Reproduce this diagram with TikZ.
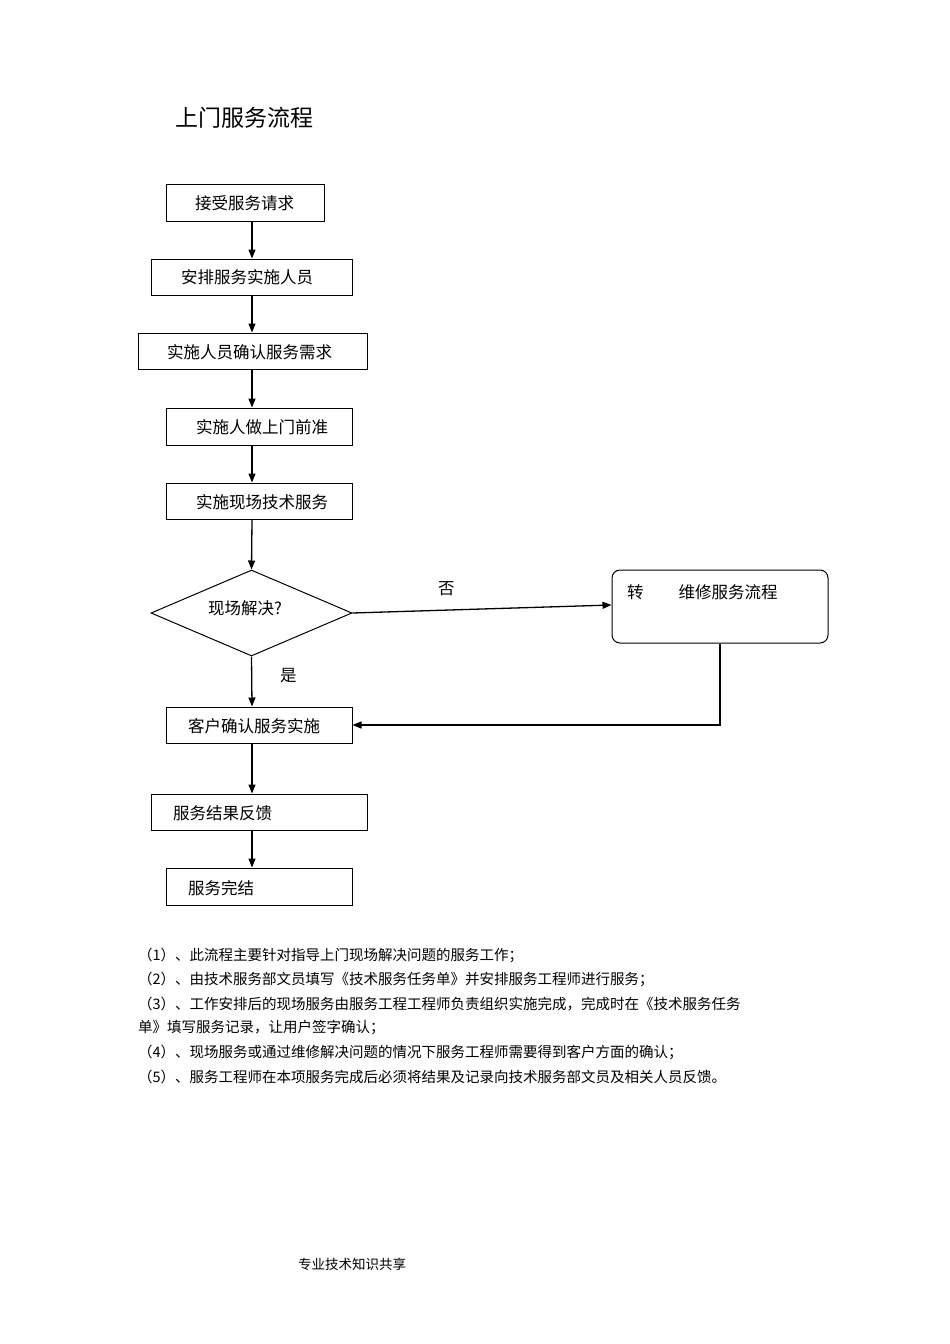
\documentclass[tikz,border=0pt]{standalone}
\usepackage{fontspec}
\setmainfont{Noto Sans CJK SC}
\usetikzlibrary{shapes.geometric,arrows.meta}
\begin{document}
\begin{tikzpicture}[x=1pt,y=-1pt,
  box/.style={draw,line width=1pt,inner sep=0pt},
  txt/.style={font=\fontsize{16.5}{19}\selectfont,anchor=west,inner sep=0pt},
  note/.style={font=\fontsize{14.5}{17}\selectfont,anchor=west,inner sep=0pt},
  arr/.style={line width=1.3pt,-{Triangle[length=9pt,width=7pt]}}]
\useasboundingbox (0,0) rectangle (950,1344);
\node[anchor=west,inner sep=0pt,font=\fontsize{23}{26}\selectfont] (title) at (175,118) {上门服务流程};
\node[box,minimum width=158,minimum height=37] (b1) at (245,202.5) {};
\node[box,minimum width=201,minimum height=36] (b2) at (251.5,277) {};
\node[box,minimum width=229,minimum height=36] (b3) at (252.5,351) {};
\node[box,minimum width=186,minimum height=37] (b4) at (259,426.5) {};
\node[box,minimum width=186,minimum height=36] (b5) at (259,501) {};
\node[draw,line width=1pt,diamond,aspect=2.34,minimum width=201,minimum height=86,inner sep=0pt] (d) at (251.5,613) {};
\node[box,rounded corners=8pt,minimum width=216,minimum height=73] (r) at (720,606.5) {};
\node[box,minimum width=186,minimum height=36] (b6) at (259,725) {};
\node[box,minimum width=216,minimum height=36] (b7) at (259,812) {};
\node[box,minimum width=186,minimum height=37] (b8) at (259,886.5) {};
\node[txt] at (195,203) {接受服务请求};
\node[txt] at (181,277) {安排服务实施人员};
\node[txt] at (167,352) {实施人员确认服务需求};
\node[txt] at (196,427) {实施人做上门前准};
\node[txt] at (196,502) {实施现场技术服务};
\node[txt] at (208,608) {现场解决?};
\node[txt] at (627,592) {转\hspace{35pt}维修服务流程};
\node[txt] at (188,726) {客户确认服务实施};
\node[txt] at (173,813) {服务结果反馈};
\node[txt] at (188,888) {服务完结};
\node[txt] (no) at (438,589) {否};
\node[txt] (yes) at (280,676) {是};
\draw[arr] (b1.south-|252,0) -- (b2.north-|252,0);
\draw[arr] (b2.south-|252,0) -- (b3.north-|252,0);
\draw[arr] (b3.south-|252,0) -- (b4.north-|252,0);
\draw[arr] (b4.south-|252,0) -- (b5.north-|252,0);
\draw[arr] (b5.south-|252,0) -- (d.north);
\draw[arr] (d.south) -- (b6.north-|252,0);
\draw[arr] (d.east) -- (r.west|-0,605);
\draw[arr] (r.south) |- (b6.east);
\draw[arr] (b6.south-|252,0) -- (b7.north-|252,0);
\draw[arr] (b7.south-|252,0) -- (b8.north-|252,0);
\node[note] at (138,955) {（1）、此流程主要针对指导上门现场解决问题的服务工作；};
\node[note] at (138,979) {（2）、由技术服务部文员填写《技术服务任务单》并安排服务工程师进行服务；};
\node[note] at (138,1004) {（3）、工作安排后的现场服务由服务工程工程师负责组织实施完成，完成时在《技术服务任务};
\node[note] at (138,1028) {单》填写服务记录，让用户签字确认；};
\node[note] at (138,1052) {（4）、现场服务或通过维修解决问题的情况下服务工程师需要得到客户方面的确认；};
\node[note] at (138,1077) {（5）、服务工程师在本项服务完成后必须将结果及记录向技术服务部文员及相关人员反馈。};
\node[note,font=\fontsize{13.5}{16}\selectfont] at (298,1264) {专业技术知识共享};
\end{tikzpicture}
\end{document}
